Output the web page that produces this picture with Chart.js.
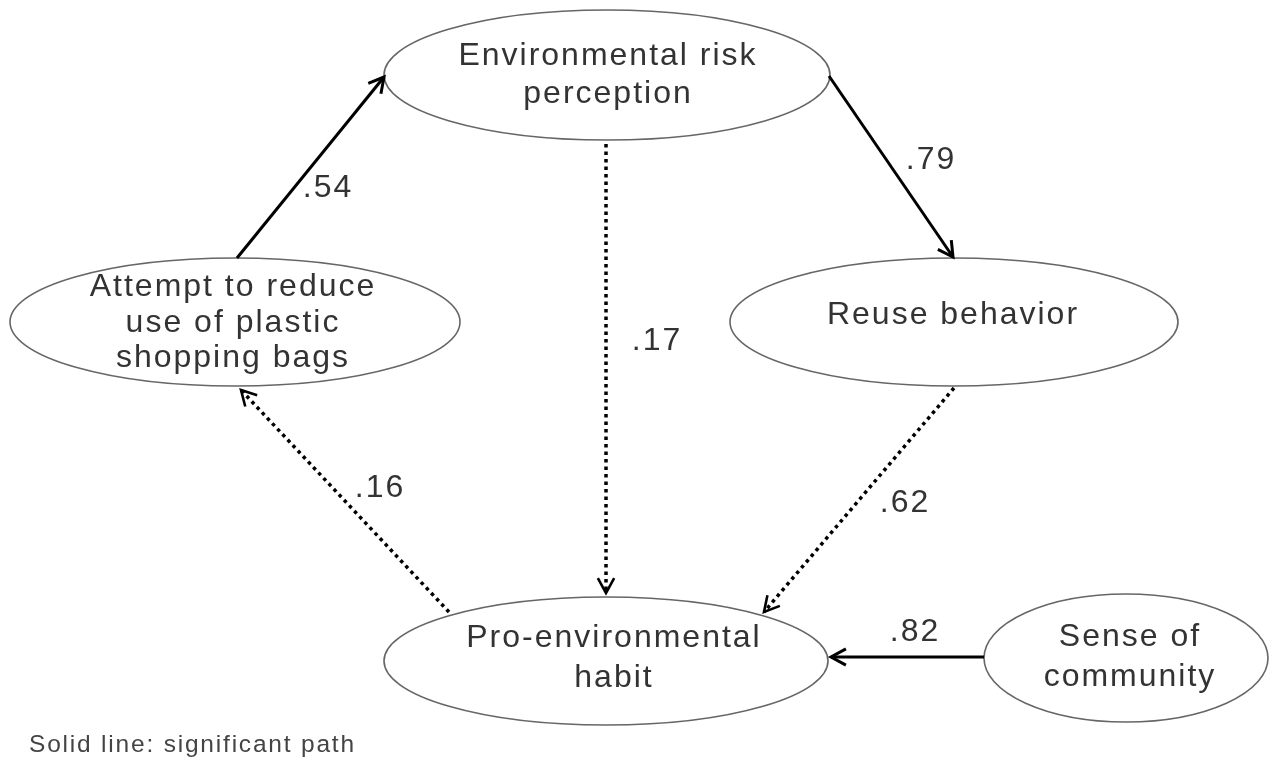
<!DOCTYPE html>
<html>
<head>
<meta charset="utf-8">
<script src="https://cdn.jsdelivr.net/npm/chart.js@4"></script>
<style>
  html, body { margin: 0; padding: 0; background: #fff; }
  #wrap { width: 1277px; height: 761px; }
</style>
</head>
<body>
<div id="wrap"><canvas id="diagram" width="1277" height="761"></canvas></div>
<script>
// Latent variables, one label line per entry
const nodeIds = ["risk", "attempt", "reuse", "habit", "community"];
const nodeLabels = [
    ["Environmental risk", "perception"],
    ["Attempt to reduce", "use of plastic", "shopping bags"],
    ["Reuse behavior"],
    ["Pro-environmental", "habit"],
    ["Sense of", "community"],
];

// Paths: from -> to, coefficient, significant or not
const pathFrom = ["attempt", "risk", "risk", "habit", "reuse", "community"];
const pathTo = ["risk", "reuse", "habit", "attempt", "habit", "habit"];
const pathCoef = [".54", ".79", ".17", ".16", ".62", ".82"];
const pathSignificant = [true, true, false, false, false, true];

const footnote = "Solid line: significant path";

// Layout, in axis units (1 unit = 1 px here)
const nodeLayout = {
    risk: { cx: 607, cy: 75, rx: 223, ry: 65, tx: 607, ty: [56, 94] },
    attempt: { cx: 235, cy: 322, rx: 225, ry: 64, tx: 232, ty: [287, 323, 358] },
    reuse: { cx: 954, cy: 322, rx: 224, ry: 64, tx: 952, ty: [315] },
    habit: { cx: 606, cy: 661, rx: 222, ry: 64, tx: 613, ty: [638, 678] },
    community: { cx: 1126, cy: 658, rx: 142, ry: 64, tx: 1129, ty: [637, 677] },
};

const pathLayout = [
    { x1: 237, y1: 258, x2: 384, y2: 77, lx: 327, ly: 188 },
    { x1: 829, y1: 76, x2: 953, y2: 257, lx: 930, ly: 160 },
    { x1: 606, y1: 144, x2: 606, y2: 593, lx: 656, ly: 341 },
    { x1: 449, y1: 612, x2: 241, y2: 390, lx: 379, ly: 488 },
    { x1: 954, y1: 388, x2: 764, y2: 612, lx: 904, ly: 503 },
    { x1: 984, y1: 657, x2: 831, y2: 657, lx: 914, ly: 632 },
];

const textFont = "32px 'Liberation Sans', Arial, sans-serif";
const textColor = "#333333";

// Each path is a two point line on the scatter scales
const pathDatasets = pathFrom.map((from, i) => {
    const p = pathLayout[i];
    const sig = pathSignificant[i];
    return {
        label: from + " -> " + pathTo[i],
        data: [{ x: p.x1, y: p.y1 }, { x: p.x2, y: p.y2 }],
        showLine: true,
        pointRadius: 0,
        pointHoverRadius: 0,
        borderColor: "#000000",
        borderWidth: sig ? 3 : 3.5,
        borderDash: sig ? [] : [3.5, 4],
    };
});

const setSpacing = (ctx, px) => {
    if ("letterSpacing" in ctx) ctx.letterSpacing = px + "px";
};

// Ellipses under the lines, heads and text on top
const nodesPlugin = {
    id: "nodes",
    beforeDatasetsDraw(chart) {
        const ctx = chart.ctx;
        const sx = chart.scales.x, sy = chart.scales.y;
        ctx.save();
        nodeIds.forEach((id) => {
            const n = nodeLayout[id];
            const cx = sx.getPixelForValue(n.cx), cy = sy.getPixelForValue(n.cy);
            const rx = Math.abs(sx.getPixelForValue(n.cx + n.rx) - cx);
            const ry = Math.abs(sy.getPixelForValue(n.cy + n.ry) - cy);
            ctx.beginPath();
            ctx.ellipse(cx, cy, rx, ry, 0, 0, Math.PI * 2);
            ctx.fillStyle = "#ffffff";
            ctx.fill();
            ctx.lineWidth = 1.6;
            ctx.strokeStyle = "#666666";
            ctx.stroke();
        });
        ctx.restore();
    },
    afterDatasetsDraw(chart) {
        const ctx = chart.ctx;
        const sx = chart.scales.x, sy = chart.scales.y;
        ctx.save();

        // arrow heads
        pathLayout.forEach((p, i) => {
            const x1 = sx.getPixelForValue(p.x1), y1 = sy.getPixelForValue(p.y1);
            const x2 = sx.getPixelForValue(p.x2), y2 = sy.getPixelForValue(p.y2);
            const a = Math.atan2(y2 - y1, x2 - x1);
            const len = 17, spread = 0.5;
            ctx.beginPath();
            ctx.moveTo(x2 - len * Math.cos(a - spread), y2 - len * Math.sin(a - spread));
            ctx.lineTo(x2, y2);
            ctx.lineTo(x2 - len * Math.cos(a + spread), y2 - len * Math.sin(a + spread));
            ctx.lineWidth = pathSignificant[i] ? 3 : 2.6;
            ctx.lineJoin = "miter";
            ctx.strokeStyle = "#000000";
            ctx.setLineDash([]);
            ctx.stroke();
        });

        // node labels
        ctx.font = textFont;
        ctx.fillStyle = textColor;
        ctx.textAlign = "center";
        ctx.textBaseline = "middle";
        setSpacing(ctx, 2);
        nodeIds.forEach((id, i) => {
            const n = nodeLayout[id];
            nodeLabels[i].forEach((line, k) => {
                ctx.fillText(line, sx.getPixelForValue(n.tx) + 1, sy.getPixelForValue(n.ty[k]));
            });
        });

        // coefficients
        pathCoef.forEach((c, i) => {
            const p = pathLayout[i];
            ctx.fillText(c, sx.getPixelForValue(p.lx) + 1, sy.getPixelForValue(p.ly));
        });

        // footnote
        ctx.font = "24.5px 'Liberation Sans', Arial, sans-serif";
        ctx.fillStyle = "#444444";
        ctx.textAlign = "left";
        setSpacing(ctx, 1.8);
        ctx.fillText(footnote, sx.getPixelForValue(29), sy.getPixelForValue(745));
        ctx.restore();
    },
};

const diagram = new Chart(document.getElementById("diagram"), {
    type: "scatter",
    data: { datasets: pathDatasets },
    plugins: [nodesPlugin],
    options: {
        responsive: false,
        devicePixelRatio: 1,
        animation: false,
        events: [],
        layout: { padding: 0 },
        plugins: {
            legend: { display: false },
            tooltip: { enabled: false },
        },
        scales: {
            x: { type: "linear", min: 0, max: 1277, display: false },
            y: { type: "linear", min: 0, max: 761, reverse: true, display: false },
        },
    },
});
</script>
</body>
</html>
